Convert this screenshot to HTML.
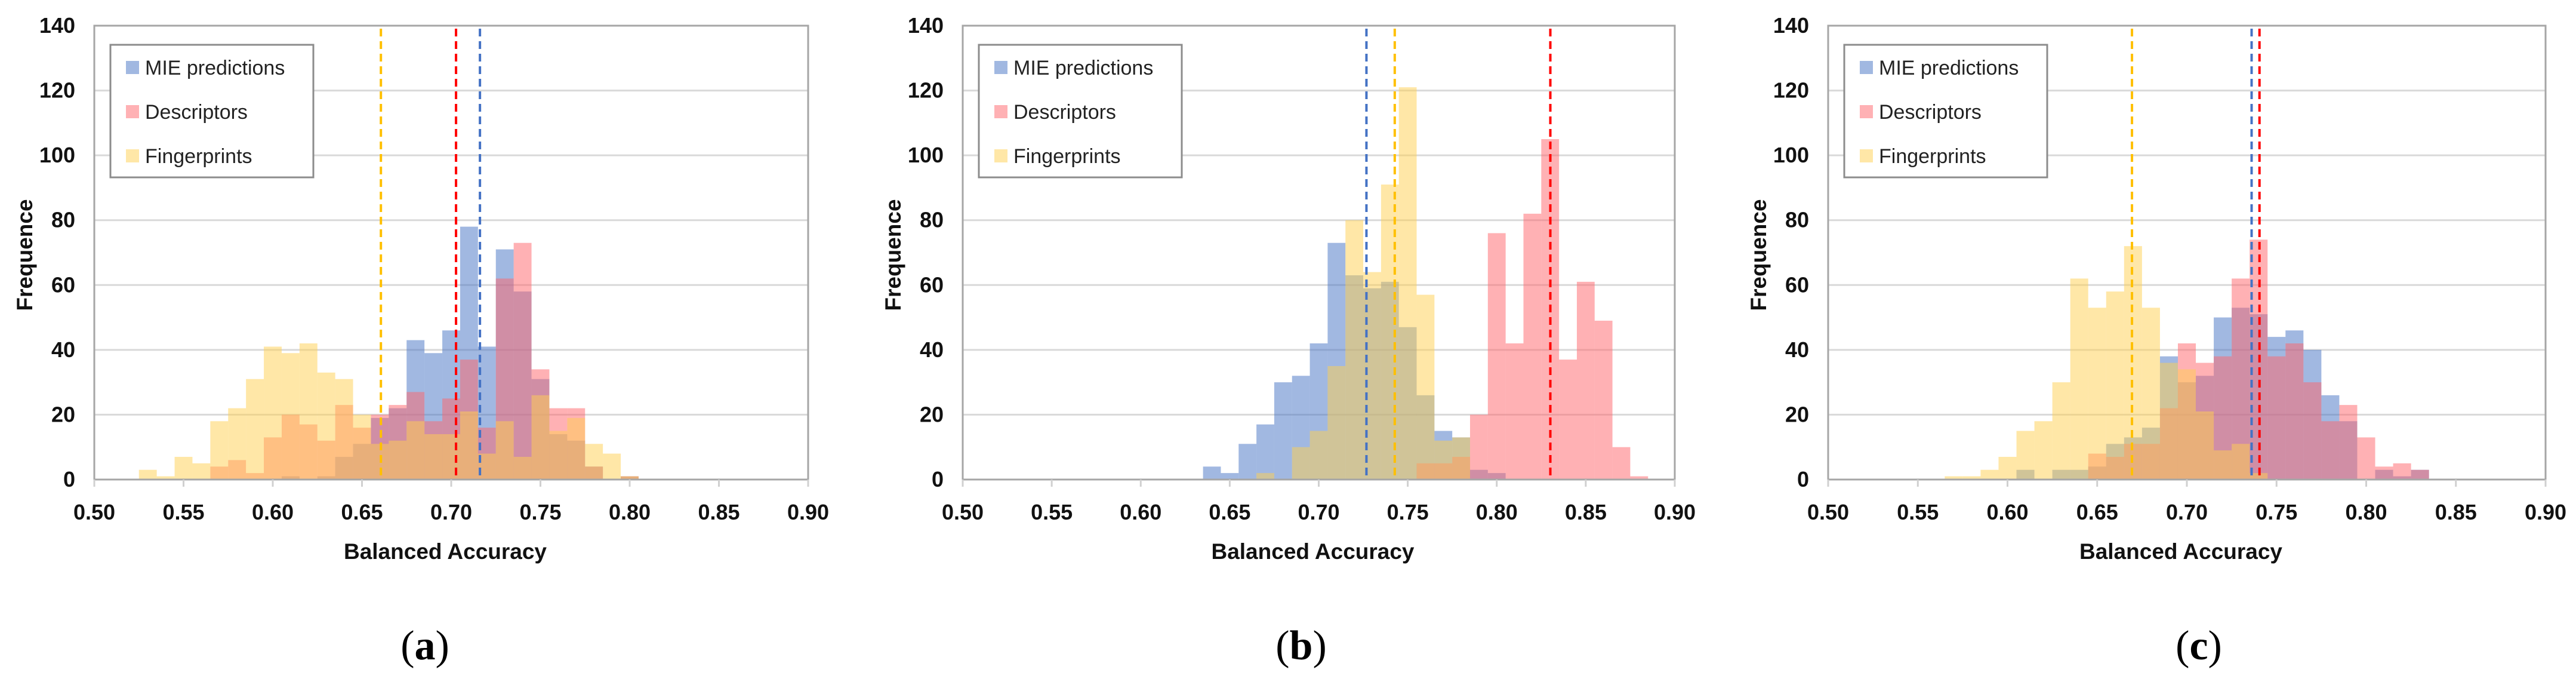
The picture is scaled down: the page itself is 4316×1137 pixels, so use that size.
<!DOCTYPE html>
<html><head><meta charset="utf-8"><style>
html,body{margin:0;padding:0;background:#fff;}
svg{display:block;font-family:"Liberation Sans",sans-serif;}
</style></head><body>
<svg id="fig" width="4316" height="1137" viewBox="0 0 4316 1137" xmlns="http://www.w3.org/2000/svg"></svg>
<script>
// Panel (a)
const binsA=[0.53,0.54,0.55,0.56,0.57,0.58,0.59,0.60,0.61,0.62,0.63,0.64,0.65,0.66,0.67,0.68,0.69,0.70,0.71,0.72,0.73,0.74,0.75,0.76,0.77,0.78,0.79,0.80];
const mieA=[0,0,0,0,0,0,0,0,1,0,1,7,11,19,22,43,39,46,78,41,71,58,31,14,12,4,0,1];
const descA=[0,0,0,0,4,6,2,13,20,17,12,23,16,20,23,27,18,25,37,16,62,73,34,22,22,4,0,1];
const fingA=[3,1,7,5,18,22,31,41,39,42,33,31,20,11,12,18,14,14,21,8,18,7,26,15,19,11,8,1];
const meansA=[0.7161,0.7027,0.6606];
// Panel (b)
const binsB=[0.64,0.65,0.66,0.67,0.68,0.69,0.70,0.71,0.72,0.73,0.74,0.75,0.76,0.77,0.78,0.79,0.80,0.81,0.82,0.83,0.84,0.85,0.86,0.87,0.88];
const mieB=[4,2,11,17,30,32,42,73,63,59,61,47,26,15,13,3,2,0,0,0,0,0,0,0,0];
const descB=[0,0,0,0,0,0,0,0,0,0,0,0,5,5,7,20,76,42,82,105,37,61,49,10,1];
const fingB=[0,0,0,2,0,10,15,35,80,64,91,121,57,12,13,0,0,0,0,0,0,0,0,0,0];
const meansB=[0.7268,0.8301,0.7427];
// Panel (c)
const binsC=[0.57,0.58,0.59,0.60,0.61,0.62,0.63,0.64,0.65,0.66,0.67,0.68,0.69,0.70,0.71,0.72,0.73,0.74,0.75,0.76,0.77,0.78,0.79,0.80,0.81,0.82,0.83];
const mieC=[0,0,0,0,3,0,3,3,4,11,13,16,38,30,32,50,53,51,44,46,40,26,18,0,3,1,3];
const descC=[0,0,0,0,0,0,0,0,8,7,11,11,22,42,36,38,62,74,38,42,30,18,23,13,4,5,3];
const fingC=[1,1,3,7,15,18,30,62,53,58,72,53,36,34,21,9,11,2,0,0,0,0,0,0,0,0,0];
const meansC=[0.7361,0.7405,0.6694];

const xTicks=["0.50","0.55","0.60","0.65","0.70","0.75","0.80","0.85","0.90"];
const yTicks=[0,20,40,60,80,100,120,140];
const seriesNames=["MIE predictions","Descriptors","Fingerprints"];

const NS="http://www.w3.org/2000/svg";
const svg=document.getElementById('fig');
const FILL=["rgba(68,114,196,0.5)","rgba(255,100,105,0.5)","rgba(255,208,80,0.5)"];
const LINE=["#4472C4","#FF0000","#FFC000"];
function mk(tag,attrs,parent){const e=document.createElementNS(NS,tag);for(const k in attrs)e.setAttribute(k,attrs[k]);(parent||svg).appendChild(e);return e;}

const Y0=803,Y140=43;
function yS(v){return Y0-(v/140)*(Y0-Y140);}

const panels=[
 {x0:158,x1:1354,bins:binsA,series:[mieA,descA,fingA],means:meansA,lab:"a",labX:712,key:"a"},
 {x0:1613,x1:2806,bins:binsB,series:[mieB,descB,fingB],means:meansB,lab:"b",labX:2180,key:"b"},
 {x0:3063,x1:4265,bins:binsC,series:[mieC,descC,fingC],means:meansC,lab:"c",labX:3684,key:"c"}
];

panels.forEach(p=>{
  const g=mk('g',{});
  
  
  const xS=v=>p.x0+(v-0.5)/0.4*(p.x1-p.x0);
  // gridlines
  yTicks.forEach(t=>{
    if(t>0){const l=mk('line',{x1:p.x0,x2:p.x1,y1:yS(t),y2:yS(t),stroke:"#d9d9d9","stroke-width":3},g);
    
    }
    const tx=mk('text',{x:p.x0-32,y:yS(t)+12,"text-anchor":"end","font-size":36,"font-weight":"bold",fill:"#111"},g);
    tx.textContent=t;
    
    
  });
  // bars
  p.series.forEach((vals,si)=>{
    vals.forEach((v,i)=>{
      if(v<=0)return;
      const c=p.bins[i];
      const xa=xS(c-0.005),xb=xS(c+0.005);
      const r=mk('rect',{x:xa,y:yS(v),width:xb-xa,height:Y0-yS(v),fill:FILL[si]},g);
      
      
    });
  });
  // mean lines
  p.means.forEach((m,si)=>{
    const l=mk('line',{x1:xS(m),x2:xS(m),y1:Y140+5,y2:Y0,stroke:LINE[si],"stroke-width":4,"stroke-dasharray":"13 8"},g);
    
    
  });
  // frame
  const fr=mk('rect',{x:p.x0,y:Y140,width:p.x1-p.x0,height:Y0-Y140,fill:"none",stroke:"#a6a6a6","stroke-width":3},g);
  
  
  // x ticks
  xTicks.forEach(t=>{
    const x=xS(parseFloat(t));
    mk('line',{x1:x,x2:x,y1:Y0,y2:Y0+12,stroke:"#d0d0d0","stroke-width":3},g);
    const tx=mk('text',{x:x,y:870,"text-anchor":"middle","font-size":36,"font-weight":"bold",fill:"#111"},g);
    tx.textContent=t;
    
    
  });
  const xt=mk('text',{x:(p.x0+p.x1)/2-10,y:936,"text-anchor":"middle","font-size":37,"font-weight":"bold",fill:"#111"},g);
  xt.textContent="Balanced Accuracy";
  
  
  const yt=mk('text',{x:0,y:0,transform:`translate(${p.x0-104},427) rotate(-90)`,"text-anchor":"middle","font-size":37,"font-weight":"bold",fill:"#111"},g);
  yt.textContent="Frequence";
  
  
  // legend
  const lg=mk('g',{},g);
  
  
  mk('rect',{x:p.x0+27,y:75,width:340,height:222,fill:"#fff",stroke:"#8c8c8c","stroke-width":3},lg);
  seriesNames.forEach((n,si)=>{
    const cy=[113,187,261][si];
    const sw=mk('rect',{x:p.x0+53,y:cy-11,width:22,height:22,fill:FILL[si]},lg);
    
    
    const t=mk('text',{x:p.x0+85,y:cy+12,"font-size":34,fill:"#222"},lg);
    t.textContent=n;
    
    
  });
  // panel label
  const pl=mk('text',{x:p.labX,y:1104,"text-anchor":"middle","font-size":70,"font-family":"Liberation Serif, serif",fill:"#000"},g);
  pl.innerHTML='(<tspan font-weight="bold">'+p.lab+'</tspan>)';
  
  
});
</script>
</body></html>
